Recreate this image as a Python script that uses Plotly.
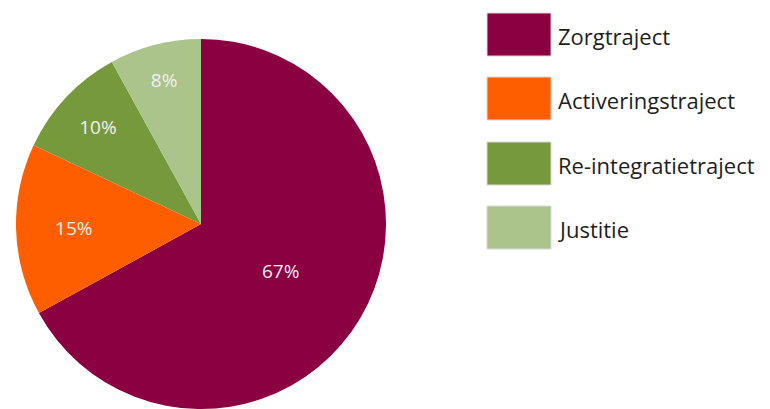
import plotly.graph_objects as go

labels = ["Zorgtraject", "Activeringstraject", "Re-integratietraject", "Justitie"]
values = [67, 15, 10, 8]
colors = ["#8A0041", "#FF5E00", "#76993C", "#AAC48C"]

W, H = 770, 409

fig = go.Figure()
fig.add_trace(go.Pie(
    labels=labels,
    values=values,
    sort=False,
    direction="clockwise",
    rotation=0,
    marker=dict(colors=colors, line=dict(width=0)),
    textinfo="percent",
    texttemplate="%{percent:.0%}",
    textposition="inside",
    insidetextorientation="horizontal",
    textfont=dict(family="Open Sans", size=19, color="#F4EEF2"),
    domain=dict(x=[16 / W, 386 / W], y=[0, 370 / H]),
    showlegend=False,
    hoverinfo="label+percent",
))

# Custom legend with large swatches, built from the category list
sw_x0, sw_x1 = 487, 551
sw_tops = [13, 77, 142, 206]
sw_h = 43
for lab, col, top in zip(labels, colors, sw_tops):
    fig.add_shape(type="rect", xref="paper", yref="paper",
                  x0=sw_x0 / W, x1=sw_x1 / W,
                  y0=1 - (top + sw_h) / H, y1=1 - top / H,
                  fillcolor=col, line=dict(width=1, color="#d8d8d8"))
    fig.add_annotation(xref="paper", yref="paper",
                       x=556 / W, y=1 - (top + sw_h / 2 + 1) / H,
                       xanchor="left", yanchor="middle",
                       text=lab, showarrow=False,
                       font=dict(family="Open Sans", size=22, color="#1e1e1e"))

fig.update_layout(
    width=W, height=H,
    margin=dict(l=0, r=0, t=0, b=0),
    paper_bgcolor="white",
    plot_bgcolor="white",
)

fig.write_html("out.html")
